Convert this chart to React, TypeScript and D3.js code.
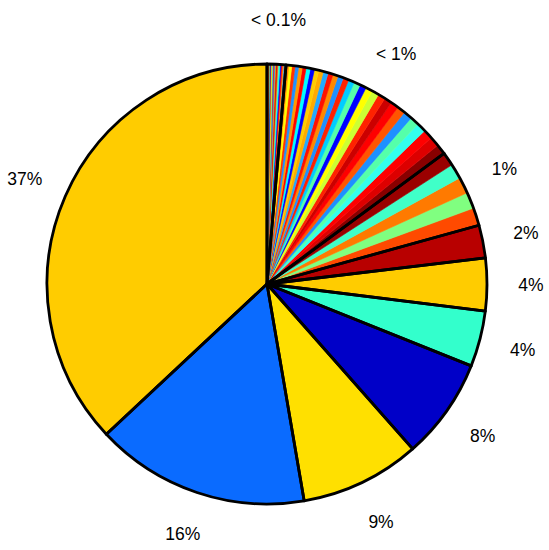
import React from "react";
import * as d3 from "d3";

// Group labels (counter-clockwise from 12 o'clock)
const groupLabels = ["37%", "16%", "9%", "8%", "4%", "4%", "2%", "1%", "< 1%", "< 0.1%"];

// Slice values per group (percent)
const bigValues = [36.9, 15.7, 8.8, 7.4, 4.1, 3.85, 2.4];
const bigColors = ["#FFCC00", "#0A6BFF", "#FFE000", "#0000C8", "#33FFCC", "#FFCC00", "#B80000"];

const onePctValues = [1.3, 1.2, 1.2, 1.1, 1.0];
const onePctColors = ["#FF4A00", "#80FF80", "#FF7A00", "#40FFC8", "#9A0000"];

const subOneValues = [
  0.74, 0.72, 0.7, 0.68, 0.66, 0.63, 0.6, 0.58, 0.56, 0.54, 0.52, 0.5, 0.48, 0.46,
  0.44, 0.42, 0.4, 0.38, 0.37, 0.36, 0.34, 0.32, 0.31, 0.3, 0.28, 0.27, 0.26, 0.24,
  0.22, 0.2,
];
const subOneColors = [
  "#880000", "#DD0000", "#FF0000", "#33FFEE", "#55FFAA", "#1E90FF", "#FF5500",
  "#FF0000", "#CC0000", "#FF2200", "#CCFF33", "#FFFF00", "#0000FF", "#55FFAA",
  "#00CCFF", "#FF2200", "#1E90FF", "#FF8800", "#FF1100", "#22AAFF", "#FFAA00",
  "#FFCC00", "#0000FF", "#00FFFF", "#FF0000", "#FF9900", "#1E90FF", "#FF3300",
  "#FFFF00", "#FF8800",
];

const subTenthValues = [
  0.095, 0.09, 0.088, 0.085, 0.082, 0.08, 0.078, 0.075, 0.072, 0.07, 0.068, 0.065,
  0.062, 0.06, 0.058, 0.055, 0.052, 0.05, 0.048, 0.045,
];
const subTenthColors = [
  "#00FFFF", "#33AAFF", "#FF8800", "#FF0000", "#0000FF", "#00FFFF", "#66FF99",
  "#FF4400", "#CC0000", "#FFAA00", "#1E90FF", "#FF0000", "#00DDFF", "#FFFF00",
  "#FF6600", "#0000CC", "#55FFAA", "#FF0000", "#FF9900", "#3399FF",
];

type Slice = { value: number; color: string; group: number };

function buildSlices(): Slice[] {
  const out: Slice[] = [];
  bigValues.forEach((v, i) => out.push({ value: v, color: bigColors[i], group: i }));
  onePctValues.forEach((v, i) => out.push({ value: v, color: onePctColors[i], group: 7 }));
  subOneValues.forEach((v, i) => out.push({ value: v, color: subOneColors[i], group: 8 }));
  subTenthValues.forEach((v, i) => out.push({ value: v, color: subTenthColors[i], group: 9 }));
  return out;
}

export default function App() {
  const W = 549;
  const H = 550;
  const cx = 267;
  const cy = 284;
  const R = 220;
  const labelR = 264;

  const slices = buildSlices();
  const pie = d3
    .pie<Slice>()
    .value((d) => d.value)
    .sort(null)
    .startAngle(0)
    .endAngle(-2 * Math.PI);
  const arcs = pie(slices);
  const arc = d3.arc<any>().innerRadius(0).outerRadius(R);

  const groups = groupLabels.map((label, g) => {
    const members = arcs.filter((a) => a.data.group === g);
    const s = members[0].startAngle;
    const e = members[members.length - 1].endAngle;
    return { label, startAngle: Math.min(s, e), endAngle: Math.max(s, e), mid: (s + e) / 2 };
  });

  return (
    <svg
      width={W}
      height={H}
      style={{ position: "fixed", left: 0, top: 0, background: "#fff" }}
    >
      <g transform={`translate(${cx},${cy})`}>
        {arcs.map((a, i) => (
          <path
            key={i}
            d={arc({ startAngle: Math.min(a.startAngle, a.endAngle), endAngle: Math.max(a.startAngle, a.endAngle) }) || ""}
            fill={a.data.color}
            stroke={a.data.color}
            strokeWidth={0.6}
          />
        ))}
        {groups.map((g, i) => (
          <path
            key={"g" + i}
            d={arc({ startAngle: g.startAngle, endAngle: g.endAngle }) || ""}
            fill="none"
            stroke="#000"
            strokeWidth={2.8}
            strokeLinejoin="round"
          />
        ))}
        {groups.map((g, i) => (
          <text
            key={"t" + i}
            x={labelR * Math.sin(g.mid)}
            y={-labelR * Math.cos(g.mid)}
            textAnchor="middle"
            dominantBaseline="central"
            fontFamily="Liberation Sans, Arial, sans-serif"
            fontSize={17.5}
            fill="#000"
          >
            {g.label}
          </text>
        ))}
      </g>
    </svg>
  );
}
